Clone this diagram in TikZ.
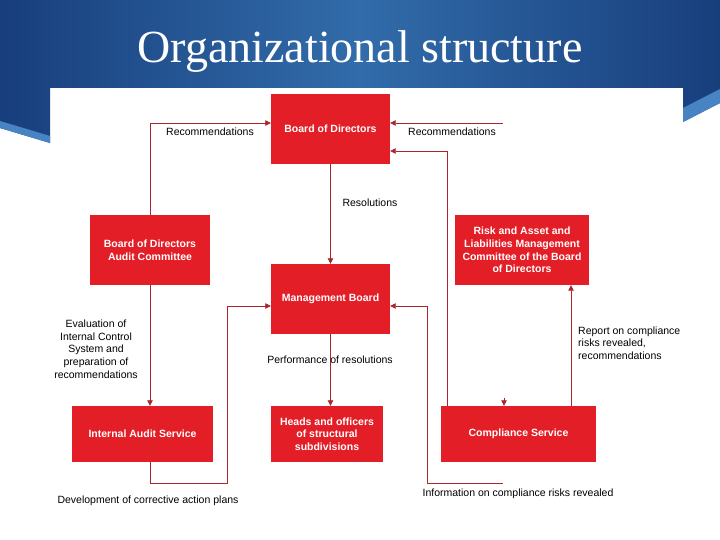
\documentclass[tikz,border=0pt]{standalone}
\usepackage{fontspec}
\setmainfont{Liberation Sans}
\newfontfamily\titlefont{Liberation Serif}
\usetikzlibrary{arrows.meta,positioning,calc}
\definecolor{boxred}{RGB}{228,30,38}
\definecolor{linered}{RGB}{168,38,44}
\definecolor{banddark}{RGB}{24,62,124}
\definecolor{bandlight}{RGB}{50,108,170}
\definecolor{stripe}{RGB}{72,132,196}

\begin{document}
\begin{tikzpicture}[x=1pt,y=-1pt,>={Triangle[length=5.5pt,width=5.5pt]},
 box/.style={rectangle,fill=boxred,text=white,align=center,inner sep=0pt,
   font=\bfseries\fontsize{10.5}{12.7}\selectfont},
 lbl/.style={font=\fontsize{10.5}{12.7}\selectfont,align=center,inner sep=0pt},
 link/.style={->,linered,line width=0.8pt}]
 % slide background
 \fill[white] (0,0) rectangle (720,540);
 \shade[left color=banddark,right color=banddark,middle color=bandlight]
   (0,0) -- (720,0) -- (720,103) -- (683,122) -- (683,88) -- (50,88) -- (50,143) -- (0,128) -- cycle;
 \fill[stripe] (0,121) -- (50,136) -- (50,143) -- (0,128) -- cycle;
 \fill[stripe] (683,108) -- (720,89) -- (720,103) -- (683,122) -- cycle;
 \node[text=white,font=\titlefont\fontsize{46}{50}\selectfont,anchor=base] (title) at (360,63) {Organizational structure};

 % boxes
 \node[box,minimum width=119pt,minimum height=70pt] (bod) at (330.5,129) {Board of Directors};
 \node[box,minimum width=120pt,minimum height=70pt] (audit) at (150,250) {Board of Directors\\Audit Committee};
 \node[box,minimum width=119pt,minimum height=70pt] (mgmt) at (330.5,299) {Management Board};
 \node[box,minimum width=134pt,minimum height=70pt] (risk) at (522,250)
   {Risk and Asset and\\Liabilities Management\\Committee of the Board\\of Directors};
 \node[box,minimum width=141pt,minimum height=56pt] (ias) at (142.5,434) {Internal Audit Service};
 \node[box,minimum width=112pt,minimum height=56pt] (heads) at (327,434) {Heads and officers\\of structural\\subdivisions};
 \node[box,minimum width=155pt,minimum height=56pt] (comp) at (518.5,434) {Compliance Service};

 % free ends
 \coordinate (recend) at (503,123);
 \coordinate (infoend) at (503,483);
 \coordinate (stub) at (504,398);

 % connectors
 \draw[link] (audit.north) |- ([yshift=6pt]bod.west);
 \draw[link] (recend) -- ([yshift=6pt]bod.east);
 \draw[link] ([xshift=7pt]comp.north west) |- ([yshift=-22pt]bod.east);
 \draw[link] (bod.south) -- (mgmt.north);
 \draw[link] (audit.south) -- (audit.south |- ias.north);
 \draw[link] (mgmt.south) -- (mgmt.south |- heads.north);
 \draw[link] (ias.south -| audit.south) -- ++(0,21) -- ++(77,0) |- ([yshift=-7pt]mgmt.west);
 \draw[link] (infoend) -- (427,483) |- ([yshift=-7pt]mgmt.east);
 \draw[link] (stub) -- (stub |- comp.north);
 \draw[link] ([xshift=52.5pt]comp.north) -- ([xshift=49pt]risk.south);

 % labels
 \node[lbl] (reclft) at (210,132) {Recommendations};
 \node[lbl] (recrgt) at (452,132) {Recommendations};
 \node[lbl] (resol) at (370,203) {Resolutions};
 \node[lbl] (evalu) at (96,349) {Evaluation of\\Internal Control\\System and\\preparation of\\recommendations};
 \node[lbl] (perf) at (330,360) {Performance of resolutions};
 \node[lbl] (devel) at (148,501) {Development of corrective action plans};
 \node[lbl] (info) at (518,494) {Information on compliance risks revealed};
 \node[lbl,align=left,anchor=west] (report) at (578,343) {Report on compliance\\risks revealed,\\recommendations};
\end{tikzpicture}
\end{document}
